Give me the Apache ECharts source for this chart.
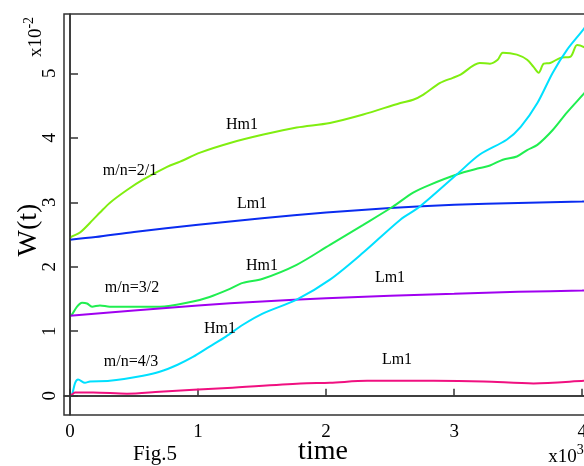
<!DOCTYPE html>
<html>
<head>
<meta charset="utf-8">
<script src="https://cdn.jsdelivr.net/npm/echarts@6/dist/echarts.min.js"></script>
<style>html,body{margin:0;padding:0;background:#fff}#c{width:584px;height:466px}</style>
</head>
<body>
<div id="c"></div>
<script>
// x in units of 10^3 (time), y in units of 10^-2 (W(t))
const xTicks = [0, 1, 2, 3, 4];
const yTicks = [0, 1, 2, 3, 4, 5];

const hm1_21 = [[0,2.45],[0.016,2.47],[0.078,2.53],[0.18,2.73],[0.234,2.84],[0.31,2.99],[0.445,3.19],[0.57,3.35],[0.758,3.55],[0.86,3.63],[1.016,3.77],[1.25,3.92],[1.51,4.05],[1.77,4.16],[2.03,4.23],[2.29,4.36],[2.58,4.54],[2.68,4.59],[2.76,4.67],[2.89,4.85],[2.99,4.93],[3.05,4.98],[3.20,5.16],[3.28,5.15],[3.34,5.21],[3.38,5.32],[3.49,5.29],[3.57,5.21],[3.62,5.10],[3.66,5.01],[3.70,5.15],[3.75,5.16],[3.83,5.24],[3.91,5.26],[3.96,5.44],[4.02,5.40],[4.06,5.33]];
const lm1_21 = [[0,2.42],[0.2,2.46],[0.5,2.54],[1,2.65],[1.5,2.75],[2,2.84],[2.5,2.91],[3,2.96],[3.5,2.99],[4,3.01],[4.1,3.02]];
const hm1_32 = [[0,1.24],[0.016,1.26],[0.055,1.38],[0.094,1.44],[0.133,1.43],[0.172,1.38],[0.234,1.40],[0.31,1.38],[0.445,1.38],[0.70,1.38],[0.96,1.46],[1.09,1.53],[1.23,1.64],[1.35,1.75],[1.5,1.81],[1.77,2.03],[2.03,2.34],[2.29,2.65],[2.52,2.93],[2.68,3.15],[2.81,3.27],[3.02,3.43],[3.20,3.53],[3.28,3.57],[3.38,3.66],[3.49,3.71],[3.57,3.81],[3.65,3.89],[3.77,4.12],[3.88,4.39],[4.02,4.70],[4.08,4.84]];
const lm1_32 = [[0,1.24],[0.5,1.32],[1,1.40],[1.5,1.46],[2,1.51],[2.5,1.55],[3,1.58],[3.5,1.61],[4,1.63],[4.1,1.64]];
const hm1_43 = [[0,0],[0.016,0.02],[0.04,0.20],[0.063,0.25],[0.117,0.20],[0.156,0.22],[0.31,0.23],[0.57,0.31],[0.70,0.37],[0.84,0.48],[0.96,0.60],[1.09,0.76],[1.22,0.92],[1.35,1.10],[1.50,1.27],[1.77,1.49],[2.03,1.80],[2.29,2.22],[2.58,2.73],[2.73,2.93],[3.02,3.43],[3.20,3.74],[3.41,3.97],[3.52,4.17],[3.65,4.54],[3.77,5.01],[3.88,5.36],[4.02,5.71],[4.08,5.91]];
const lm1_43 = [[0,0],[0.016,0.02],[0.04,0.05],[0.18,0.05],[0.445,0.03],[0.70,0.06],[1.23,0.12],[1.80,0.19],[2.03,0.20],[2.32,0.23],[2.84,0.23],[3.23,0.22],[3.62,0.19],[4.02,0.23],[4.1,0.24]];

const seriesNames = ['Hm1 2/1','Lm1 2/1','Hm1 3/2','Lm1 3/2','Hm1 4/3','Lm1 4/3'];
const seriesData = [hm1_21, lm1_21, hm1_32, lm1_32, hm1_43, lm1_43];
const seriesColors = ['#80ee10','#0a2cf0','#20ee50','#a000f0','#00e0ff','#f01080'];

const FONT = 'Liberation Serif';
const chart = echarts.init(document.getElementById('c'), null, {renderer:'canvas'});

const series = seriesData.map((d, i) => ({
  name: seriesNames[i], type: 'line', data: d, showSymbol: false, smooth: 0.3,
  lineStyle: {color: seriesColors[i], width: 2}, z: 3
}));
series.push({
  type: 'line', data: [], silent: true,
  markLine: {
    silent: true, symbol: ['none','none'], label: {show: false},
    lineStyle: {color: '#333', width: 1.5, type: 'solid'},
    data: [{xAxis: 0}, {yAxis: 0}]
  }
});

function txt(x, y, s, size, rot) {
  return {type:'text', x:x, y:y, rotation: rot||0, z:10,
    style:{text:s, font: size+'px "'+FONT+'"', fill:'#000', align:'center', verticalAlign:'middle'}};
}

chart.setOption({
  animation: false,
  grid: {left: 64, top: 14, width: 531, height: 401, show: true, borderColor: '#333', borderWidth: 1.5,
    backgroundColor: 'transparent', outerBoundsMode: 'none', containLabel: false},
  xAxis: {
    type: 'value', min: -0.047, max: 4.1,
    axisLine: {show: true, lineStyle: {color: '#333', width: 1.5}},
    axisTick: {show: true, inside: true, length: 7, customValues: xTicks, lineStyle: {color: '#333', width: 1.5}},
    axisLabel: {customValues: xTicks, color: '#000', fontFamily: FONT, fontSize: 19, margin: 8},
    splitLine: {show: false}
  },
  yAxis: {
    type: 'value', min: -0.3, max: 5.92,
    axisLine: {show: true, lineStyle: {color: '#333', width: 1.5}},
    axisTick: {show: true, inside: true, length: 8, customValues: yTicks, lineStyle: {color: '#333', width: 1.5}},
    axisLabel: {customValues: yTicks, color: '#000', fontFamily: FONT, fontSize: 19, rotate: 90, margin: 4},
    splitLine: {show: false}
  },
  series: series,
  graphic: [
    txt(242,125,'Hm1',16), txt(130,171,'m/n=2/1',16), txt(252,204,'Lm1',16),
    txt(262,266,'Hm1',16), txt(132,288,'m/n=3/2',16), txt(390,278,'Lm1',16),
    txt(220,329,'Hm1',16), txt(131,362,'m/n=4/3',16), txt(397,360,'Lm1',16),
    txt(29,230,'W(t)',28,Math.PI/2),
    txt(155,454,'Fig.5',21), txt(323,452,'time',28),
    {type:'text', x:34, y:37, rotation: Math.PI/2, z:10,
      style:{text:'{a|x10}{b|-2}', align:'center', verticalAlign:'middle',
        rich:{a:{font:'19px "'+FONT+'"', fill:'#000', verticalAlign:'bottom'}, b:{font:'14px "'+FONT+'"', fill:'#000', verticalAlign:'top', padding:[0,0,10,0]}}}},
    {type:'text', x:566, y:455, z:10,
      style:{text:'{a|x10}{b|3}', align:'center', verticalAlign:'middle',
        rich:{a:{font:'19px "'+FONT+'"', fill:'#000', verticalAlign:'bottom'}, b:{font:'14px "'+FONT+'"', fill:'#000', verticalAlign:'top', padding:[0,0,10,0]}}}}
  ]
});
</script>
</body>
</html>
